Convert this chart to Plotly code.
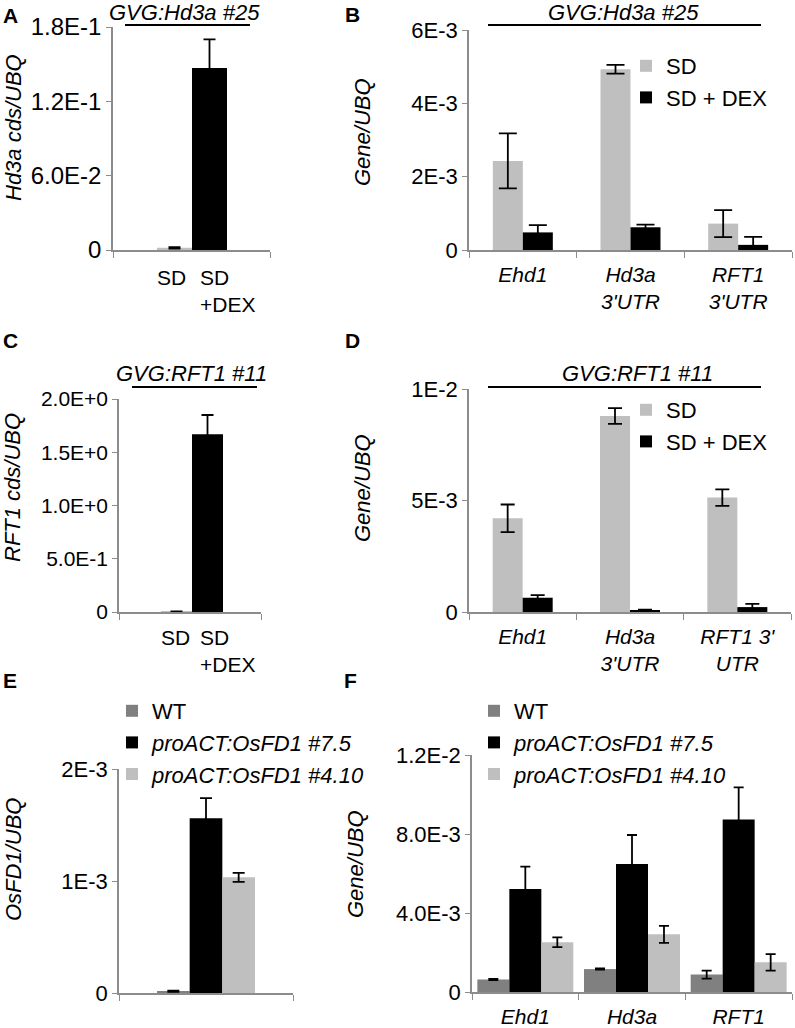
import plotly.graph_objects as go

W, H = 795, 1028
FONT = "Liberation Sans, Arial, Helvetica, sans-serif"
AXC = "#8c8c8c"
LIGHT = "#bfbfbf"
DARK = "#808080"
BLACK = "#000000"

# ---------------- data ----------------
# Panel A
a_categories = ["SD", "SD<br>+DEX"]
a_values = [0.0018, 0.147]
a_errors = [0.0006, 0.023]
a_tickvals = [0, 0.06, 0.12, 0.18]
a_ticktext = ["0", "6.0E-2", "1.2E-1", "1.8E-1"]

# Panel B
b_categories = ["<i>Ehd1</i>", "<i>Hd3a</i><br><i>3'UTR</i>", "<i>RFT1</i><br><i>3'UTR</i>"]
b_series = ["SD", "SD + DEX"]
b_sd = [2.43e-3, 4.93e-3, 0.72e-3]
b_sd_err = [0.75e-3, 0.12e-3, 0.37e-3]
b_dex = [0.48e-3, 0.62e-3, 0.14e-3]
b_dex_err = [0.20e-3, 0.07e-3, 0.22e-3]
b_tickvals = [0, 2e-3, 4e-3, 6e-3]
b_ticktext = ["0", "2E-3", "4E-3", "6E-3"]

# Panel C
c_categories = ["SD", "SD<br>+DEX"]
c_values = [0.004, 1.67]
c_errors = [0.002, 0.18]
c_tickvals = [0, 0.5, 1.0, 1.5, 2.0]
c_ticktext = ["0", "5.0E-1", "1.0E+0", "1.5E+0", "2.0E+0"]

# Panel D
d_categories = ["<i>Ehd1</i>", "<i>Hd3a</i><br><i>3'UTR</i>", "<i>RFT1 3'</i><br><i>UTR</i>"]
d_series = ["SD", "SD + DEX"]
d_sd = [4.20e-3, 8.79e-3, 5.13e-3]
d_sd_err = [0.62e-3, 0.35e-3, 0.37e-3]
d_dex = [0.64e-3, 0.08e-3, 0.22e-3]
d_dex_err = [0.12e-3, 0.03e-3, 0.14e-3]
d_tickvals = [0, 5e-3, 1e-2]
d_ticktext = ["0", "5E-3", "1E-2"]

# Panel E
e_series = ["WT", "<i>proACT:OsFD1 #7.5</i>", "<i>proACT:OsFD1 #4.10</i>"]
e_values = [0.015e-3, 1.56e-3, 1.033e-3]
e_errors = [0.005e-3, 0.18e-3, 0.04e-3]
e_tickvals = [0, 1e-3, 2e-3]
e_ticktext = ["0", "1E-3", "2E-3"]

# Panel F
f_categories = ["<i>Ehd1</i>", "<i>Hd3a</i>", "<i>RFT1</i>"]
f_series = ["WT", "<i>proACT:OsFD1 #7.5</i>", "<i>proACT:OsFD1 #4.10</i>"]
f_wt = [0.63e-3, 1.16e-3, 0.88e-3]
f_wt_err = [0.03e-3, 0.03e-3, 0.20e-3]
f_75 = [5.22e-3, 6.48e-3, 8.74e-3]
f_75_err = [1.13e-3, 1.47e-3, 1.62e-3]
f_410 = [2.52e-3, 2.92e-3, 1.50e-3]
f_410_err = [0.25e-3, 0.43e-3, 0.42e-3]
f_tickvals = [0, 4e-3, 8e-3, 1.2e-2]
f_ticktext = ["0", "4.0E-3", "8.0E-3", "1.2E-2"]

# ---------------- helpers ----------------
def px_x(x):
    return x / W

def px_y(y):
    return 1 - y / H

def xdom(x0, x1):
    return [px_x(x0), px_x(x1)]

def ydom(y0, y1):  # y0 top px, y1 bottom px
    return [px_y(y1), px_y(y0)]

def err(arr, w):
    return dict(type="data", array=arr, visible=True, color="black", thickness=1.8, width=w)

fig = go.Figure()

# Panel A : single trace, one bar per condition
fig.add_trace(go.Bar(x=list(range(len(a_categories))), y=a_values, width=1,
                     marker=dict(color=[LIGHT, BLACK], line=dict(width=0)),
                     error_y=err(a_errors, 6), xaxis="x", yaxis="y", showlegend=False))
# Panel C
fig.add_trace(go.Bar(x=list(range(len(c_categories))), y=c_values, width=1,
                     marker=dict(color=[LIGHT, BLACK], line=dict(width=0)),
                     error_y=err(c_errors, 6), xaxis="x3", yaxis="y3", showlegend=False))

def grouped(xa, ya, ncat, series, values, errors, colors, w, capw, legend):
    n = len(series)
    for i in range(n):
        fig.add_trace(go.Bar(x=list(range(ncat)), y=values[i], name=series[i],
                             width=w / n, offset=-w / 2 + i * w / n,
                             marker=dict(color=colors[i], line=dict(width=0)),
                             error_y=err(errors[i], capw),
                             xaxis=xa, yaxis=ya, legend=legend))

grouped("x2", "y2", 3, b_series, [b_sd, b_dex], [b_sd_err, b_dex_err], [LIGHT, BLACK], 60 / 107.7, 9, "legend")
grouped("x4", "y4", 3, d_series, [d_sd, d_dex], [d_sd_err, d_dex_err], [LIGHT, BLACK], 60 / 107.3, 7, "legend2")
grouped("x5", "y5", 1, e_series, [[v] for v in e_values], [[v] for v in e_errors], [DARK, BLACK, LIGHT], 98 / 174, 6, "legend3")
grouped("x6", "y6", 3, f_series, [f_wt, f_75, f_410], [f_wt_err, f_75_err, f_410_err], [DARK, BLACK, LIGHT], 96 / 106.7, 5, "legend4")

def yax(dom, rng, tv, tt, anchor, size=22):
    return dict(domain=dom, range=rng, tickmode="array", tickvals=tv, ticktext=tt,
                ticks="outside", ticklen=5, tickwidth=1.3, tickcolor=AXC,
                showline=True, linecolor=AXC, linewidth=1.5, showgrid=False, zeroline=False,
                tickfont=dict(family=FONT, size=size, color="black"), anchor=anchor, fixedrange=True)

def xax(dom, rng, cats, anchor, boundaries, size=21, labels=True):
    return dict(domain=dom, range=rng, tickmode="array", tickvals=list(range(len(cats))), ticktext=cats,
                ticks="", showline=True, linecolor=AXC, linewidth=1.5, showgrid=False, zeroline=False,
                minor=dict(tickmode="array", tickvals=boundaries, ticks="outside", ticklen=6,
                           tickwidth=1.3, tickcolor=AXC, showgrid=False),
                tickangle=0, automargin=False, showticklabels=labels,
                tickfont=dict(family=FONT, size=size, color="black"), anchor=anchor,
                ticklabelstandoff=5, fixedrange=True)

a_rng = [-0.5 - 44 / 35, 1.5 + 43 / 35]
c_rng = [-0.5 - 42 / 31, 1.5 + 38 / 31]
cat3 = [-0.5, 2.5]
bnd3 = [-0.5, 0.5, 1.5, 2.5]

fig.update_layout(
    xaxis=xax(xdom(113, 270), a_rng, a_categories, "y", a_rng, labels=False),
    yaxis=yax(ydom(27, 250), [0, 0.18], a_tickvals, a_ticktext, "x", size=24),
    xaxis2=xax(xdom(469, 792), cat3, b_categories, "y2", bnd3),
    yaxis2=yax(ydom(30, 250), [0, 6e-3], b_tickvals, b_ticktext, "x2"),
    xaxis3=xax(xdom(119, 261), c_rng, c_categories, "y3", c_rng, labels=False),
    yaxis3=yax(ydom(399, 612), [0, 2.0], c_tickvals, c_ticktext, "x3", size=21),
    xaxis4=xax(xdom(469, 791), cat3, d_categories, "y4", bnd3),
    yaxis4=yax(ydom(389, 612), [0, 1e-2], d_tickvals, d_ticktext, "x4"),
    xaxis5=xax(xdom(119, 293), [-0.5, 0.5], [""], "y5", [-0.5, 0.5], labels=False),
    yaxis5=yax(ydom(769, 993), [0, 2e-3], e_tickvals, e_ticktext, "x5"),
    xaxis6=xax(xdom(472, 792), cat3, f_categories, "y6", bnd3),
    yaxis6=yax(ydom(755, 992), [0, 1.2e-2], f_tickvals, f_ticktext, "x6"),
)

legfont = dict(family=FONT, size=22, color="black")
def leg(x, y):
    return dict(x=px_x(x), y=px_y(y), xanchor="left", yanchor="top", font=legfont,
                bgcolor="rgba(0,0,0,0)", borderwidth=0, traceorder="normal")

fig.update_layout(
    width=W, height=H, margin=dict(l=0, r=0, t=0, b=0, autoexpand=False),
    paper_bgcolor="white", plot_bgcolor="white", barmode="overlay", showlegend=True,
    font=dict(family=FONT, color="black"),
    legend=leg(626, 45), legend2=leg(626, 389), legend3=leg(112, 690), legend4=leg(474, 690),
)

def ann(text, x, y, size=22, **kw):
    return dict(text=text, x=px_x(x), y=px_y(y), xref="paper", yref="paper", showarrow=False,
                xanchor="center", yanchor="middle",
                font=dict(family=FONT, size=size, color="black"), **kw)

annotations = [
    ann("<b>A</b>", 10, 16, size=21), ann("<b>B</b>", 352, 15, size=21),
    ann("<b>C</b>", 10, 341, size=21), ann("<b>D</b>", 352, 341, size=21),
    ann("<b>E</b>", 10, 680, size=21), ann("<b>F</b>", 350, 680, size=21),
    ann("<i>GVG:Hd3a #25</i>", 184, 13), ann("<i>GVG:Hd3a #25</i>", 623, 13),
    ann("<i>GVG:RFT1 #11</i>", 191, 373), ann("<i>GVG:RFT1 #11</i>", 637, 373),
    ann("<i>Hd3a cds/UBQ</i>", 13, 128, textangle=-90),
    ann("<i>Gene/UBQ</i>", 362, 132, textangle=-90),
    ann("<i>RFT1 cds/UBQ</i>", 12, 488, textangle=-90),
    ann("<i>Gene/UBQ</i>", 362, 488, textangle=-90),
    ann("<i>OsFD1/UBQ</i>", 13, 860, textangle=-90),
    ann("<i>Gene/UBQ</i>", 355, 864, textangle=-90),
]

# Category labels of A and C: left-aligned under each bar (Excel style wrapping)
label_shift = [-2, 6]
def bar_labels(cats, xref, ytop):
    out = []
    for i, c in enumerate(cats):
        out.append(dict(text=c, x=i - 0.5, xref=xref, y=px_y(ytop), yref="paper",
                        xanchor="left", yanchor="top", align="left", showarrow=False,
                        xshift=label_shift[i],
                        font=dict(family=FONT, size=21, color="black")))
    return out

annotations += bar_labels(a_categories, "x", 264)
annotations += bar_labels(c_categories, "x3", 624)
fig.update_layout(annotations=annotations)

def hline(x0, x1, y):
    return dict(type="line", xref="paper", yref="paper", x0=px_x(x0), x1=px_x(x1),
                y0=px_y(y), y1=px_y(y), line=dict(color="black", width=2))

fig.update_layout(shapes=[hline(125, 250, 25), hline(488, 761, 25),
                          hline(132, 257, 387), hline(488, 761, 387)])

fig.write_html("out.html", config={"displayModeBar": False},
               post_script="document.body.style.margin='0px';")
